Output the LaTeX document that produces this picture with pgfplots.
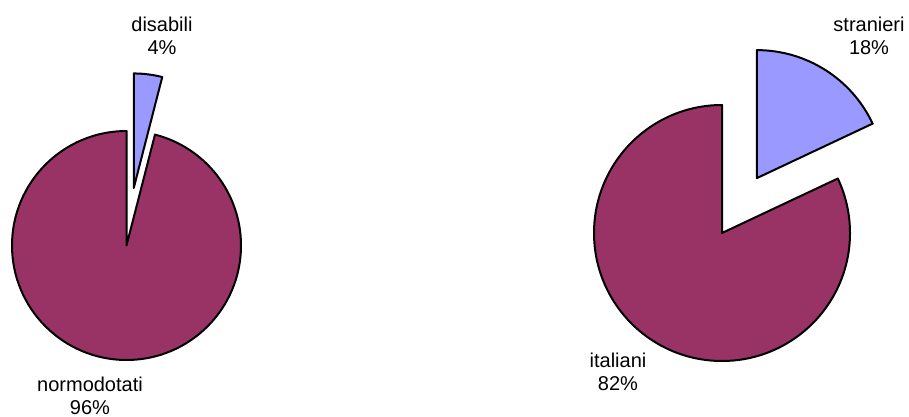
\documentclass[border=0pt]{standalone}
\usepackage{pgfplots}
\pgfplotsset{compat=1.18}
\usepackage{fontspec}
\setmainfont{Liberation Sans}

\definecolor{plum}{HTML}{993366}
\definecolor{lilac}{HTML}{9999FF}

% slice of a clockwise pie starting at 12 o'clock
% #1,#2 centre  #3 radius  #4 from (%)  #5 to (%)  #6 colour  #7 explode
\newcommand\pieslice[7]{%
  \filldraw[fill=#6, draw=black, line width=2pt, line join=round]
    (axis cs:#1,#2) ++({90-1.8*(#4+#5)}:#7pt)
    -- ++({90-3.6*#5}:#3pt)
    arc[start angle={90-3.6*#5}, end angle={90-3.6*#4}, radius=#3pt]
    -- cycle;}

\begin{document}
\begin{tikzpicture}
\begin{axis}[
    name=ax,
    x=1pt, y=1pt,
    xmin=0, xmax=909, ymin=0, ymax=416,
    hide axis, clip=false,
  ]
  % disabili 4, normodotati 96
  \pieslice{126.5}{170.5}{114.5}{0}{4}{lilac}{58}
  \pieslice{126.5}{170.5}{114.5}{4}{100}{plum}{0}
  % stranieri 18, italiani 82
  \pieslice{722}{183}{128}{0}{18}{lilac}{65}
  \pieslice{722}{183}{128}{18}{100}{plum}{0}

  \tikzset{every node/.style={align=center, inner sep=0pt, anchor=north,
      font=\fontsize{20}{23}\selectfont}}
  \node at (axis cs:162,399) {disabili\\4\%};
  \node at (axis cs:90,39) {normodotati\\96\%};
  \node at (axis cs:869,399) {stranieri\\18\%};
  \node at (axis cs:618,63) {italiani\\82\%};
\end{axis}
\pgfresetboundingbox
\path (ax.south west) rectangle (ax.north east);
\end{tikzpicture}
\end{document}
